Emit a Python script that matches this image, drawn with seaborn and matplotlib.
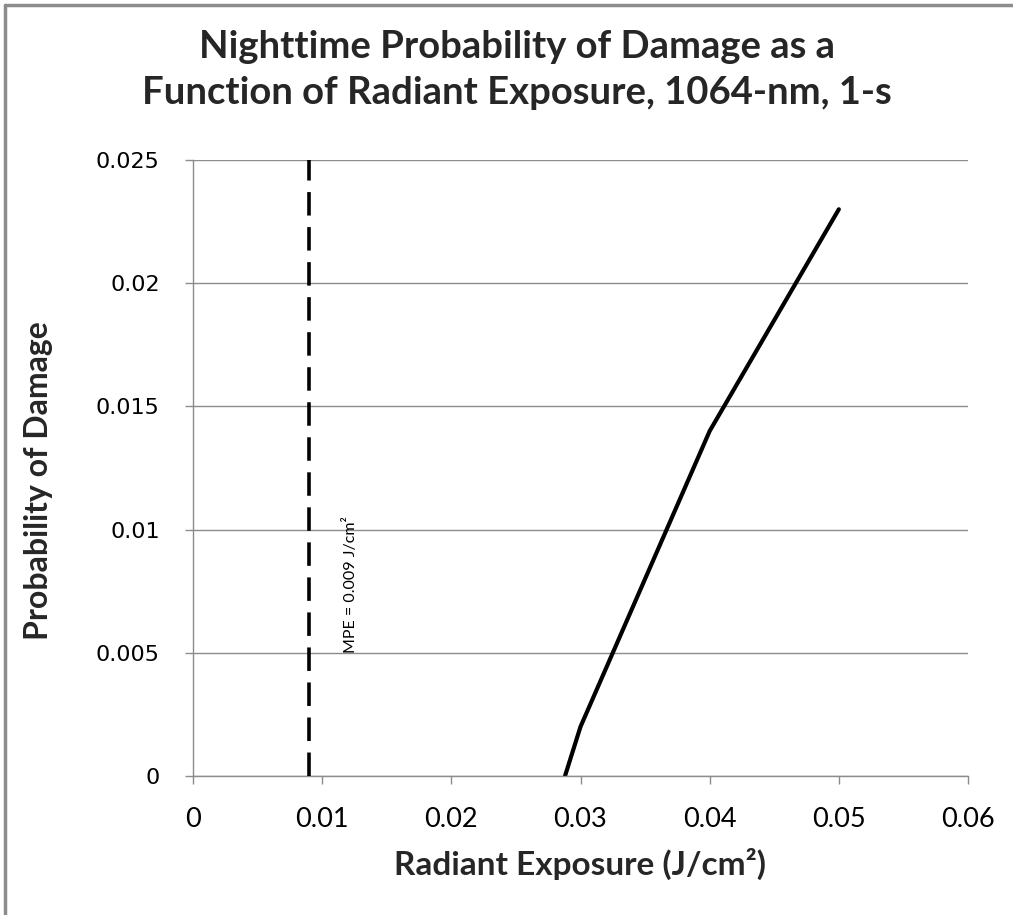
import matplotlib
matplotlib.use("Agg")
import matplotlib.pyplot as plt
import seaborn as sns
import pandas as pd
from matplotlib.lines import Line2D

# Data
exposure = [0.0288, 0.030, 0.040, 0.050]
probability = [0.0, 0.002, 0.014, 0.023]
mpe_value = 0.009
x_ticks = [0, 0.01, 0.02, 0.03, 0.04, 0.05, 0.06]
x_tick_labels = ["0", "0.01", "0.02", "0.03", "0.04", "0.05", "0.06"]
y_ticks = [0, 0.005, 0.01, 0.015, 0.02, 0.025]
y_tick_labels = ["0", "0.005", "0.01", "0.015", "0.02", "0.025"]
title = "Nighttime Probability of Damage as a\nFunction of Radiant Exposure, 1064-nm, 1-s"
x_label = "Radiant Exposure (J/cm²)"
y_label = "Probability of Damage"
mpe_label = "MPE = 0.009 J/cm²"

sns.set_theme(style="white")
plt.rcParams['font.family'] = ['Lato', 'DejaVu Sans']

W, H = 1013, 915
fig = plt.figure(figsize=(W / 100, H / 100), dpi=100)
ax = fig.add_axes([193 / W, 1 - 776 / H, (968 - 193) / W, (776 - 160) / H])

df = pd.DataFrame({"exposure": exposure, "probability": probability})
sns.lineplot(data=df, x="exposure", y="probability", ax=ax, color="black",
             linewidth=3.0, sort=False, estimator=None)

ax.plot([mpe_value, mpe_value], [0, 0.025], color="black", linewidth=2.6,
        linestyle=(0, (6.5, 3.2)), solid_capstyle="butt", dash_capstyle="butt", zorder=3)

ax.text(mpe_value + 0.0032, 0.005, mpe_label, rotation=90, ha="center", va="bottom",
        fontsize=11.5, color="black")

ax.set_xlim(0, 0.06)
ax.set_ylim(0, 0.025)
ax.set_xticks(x_ticks)
ax.set_xticklabels(x_tick_labels, fontsize=19.5)
ax.set_yticks(y_ticks)
ax.set_yticklabels(y_tick_labels, fontsize=16, family=['DejaVu Sans'])
ax.tick_params(axis="x", direction="out", length=6, width=1, color="#8c8c8c", pad=16,
               labelcolor="black", bottom=True)
ax.tick_params(axis="y", direction="out", length=6, width=1, color="#8c8c8c", pad=18,
               labelcolor="black", left=True)

ax.grid(axis="y", color="#8c8c8c", linewidth=1)
ax.grid(axis="x", visible=False)
for s in ["top", "right"]:
    ax.spines[s].set_visible(False)
for s in ["left", "bottom"]:
    ax.spines[s].set_color("#8c8c8c")
    ax.spines[s].set_linewidth(1)
ax.set_axisbelow(True)

ax.set_xlabel(x_label, fontsize=24, fontweight="bold", labelpad=12)
ax.set_ylabel(y_label, fontsize=23, fontweight="bold")
ax.yaxis.set_label_coords(-0.18, 0.48)

fig.text(517 / W, 1 - 70 / H, title, ha="center", va="center", fontsize=27.5,
         fontweight="bold", linespacing=1.45)

# chart border (left and top visible)
fig.add_artist(Line2D([5 / W, 5 / W], [0, 1 - 5 / H], color="#8c8c8c", linewidth=2.5,
                      transform=fig.transFigure))
fig.add_artist(Line2D([5 / W, 1], [1 - 5 / H, 1 - 5 / H], color="#8c8c8c", linewidth=2.5,
                      transform=fig.transFigure))

fig.savefig("out.png", dpi=100, facecolor="white")
